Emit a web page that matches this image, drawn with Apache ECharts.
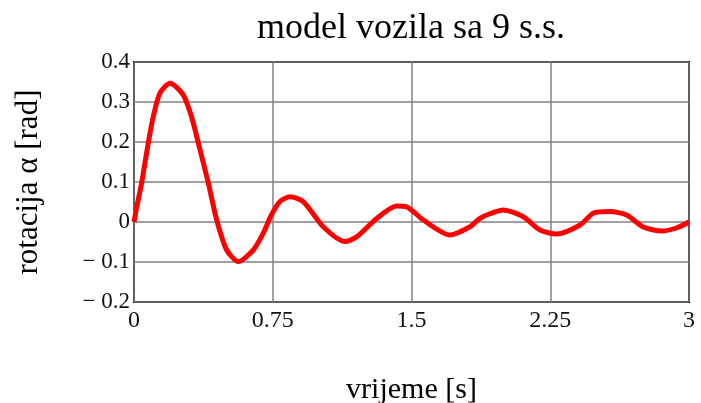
<!DOCTYPE html>
<html>
<head>
<meta charset="utf-8">
<script src="https://cdn.jsdelivr.net/npm/echarts@6/dist/echarts.min.js"></script>
<style>
  html, body { margin: 0; padding: 0; background: #fff; }
  #chart { width: 701px; height: 403px; }
</style>
</head>
<body>
<div id="chart"></div>
<script>
  // values
  const time = [0, 0.015, 0.041, 0.077, 0.104, 0.14, 0.195, 0.266, 0.311, 0.357, 0.402, 0.447,
    0.501, 0.564, 0.645, 0.699, 0.74, 0.789, 0.843, 0.915, 1.023, 1.141, 1.204, 1.312, 1.42,
    1.474, 1.564, 1.708, 1.816, 1.87, 1.92, 1.996, 2.104, 2.195, 2.285, 2.411, 2.483, 2.573,
    2.663, 2.753, 2.852, 2.933, 3.0];
  const rotation = [0, 0.038, 0.097, 0.197, 0.263, 0.322, 0.347, 0.318, 0.263, 0.18, 0.097, 0.005,
    -0.07, -0.099, -0.07, -0.028, 0.015, 0.051, 0.063, 0.051, -0.012, -0.049, -0.037, 0.009, 0.04,
    0.038, 0.005, -0.0325, -0.012, 0.009, 0.02, 0.03, 0.013, -0.02, -0.03, -0.0075, 0.022, 0.026,
    0.0175, -0.0125, -0.0225, -0.015, 0.0];
  const xTicks = [0, 0.75, 1.5, 2.25, 3];

  const serif = '"Liberation Serif", "DejaVu Serif", serif';
  const chart = echarts.init(document.getElementById('chart'));
  chart.setOption({
    animation: false,
    title: {
      text: 'model vozila sa 9 s.s.',
      left: 406, top: 6, textAlign: 'center',
      textStyle: { fontFamily: serif, fontSize: 36, fontWeight: 'normal', color: '#000' }
    },
    grid: {
      left: 134, top: 62, right: 12, bottom: 101,
      outerBoundsMode: 'none',
      show: true, borderColor: '#000', borderWidth: 2
    },
    xAxis: {
      type: 'value', min: 0, max: 3, interval: 0.75,
      name: 'vrijeme [s]', nameLocation: 'middle', nameGap: 73,
      nameTextStyle: { fontFamily: serif, fontSize: 30, color: '#000' },
      axisLine: { show: false }, axisTick: { show: false },
      axisLabel: {
        fontFamily: serif, fontSize: 24, color: '#111', margin: 7,
        formatter: v => String(xTicks.find(t => Math.abs(t - v) < 1e-6) ?? v)
      },
      splitLine: { show: true, lineStyle: { color: '#808080', width: 1.5 } }
    },
    yAxis: {
      type: 'value', min: -0.2, max: 0.4, interval: 0.1,
      name: 'rotacija α [rad]', nameLocation: 'middle', nameGap: 90,
      nameTextStyle: { fontFamily: serif, fontSize: 31, color: '#000' },
      axisLine: { show: false }, axisTick: { show: false },
      axisLabel: {
        fontFamily: serif, fontSize: 23, color: '#111', margin: 4,
        formatter: v => {
          const r = Math.round(v * 10) / 10;
          if (r === 0) return '0';
          return r < 0 ? '− ' + Math.abs(r) : String(r);
        }
      },
      splitLine: { show: true, lineStyle: { color: '#808080', width: 1.5 } }
    },
    series: [{
      type: 'line',
      data: time.map((t, i) => [t, rotation[i]]),
      showSymbol: false,
      smooth: 0.25,
      lineStyle: { color: '#ff0000', width: 5 },
      clip: false
    }]
  });
</script>
</body>
</html>
